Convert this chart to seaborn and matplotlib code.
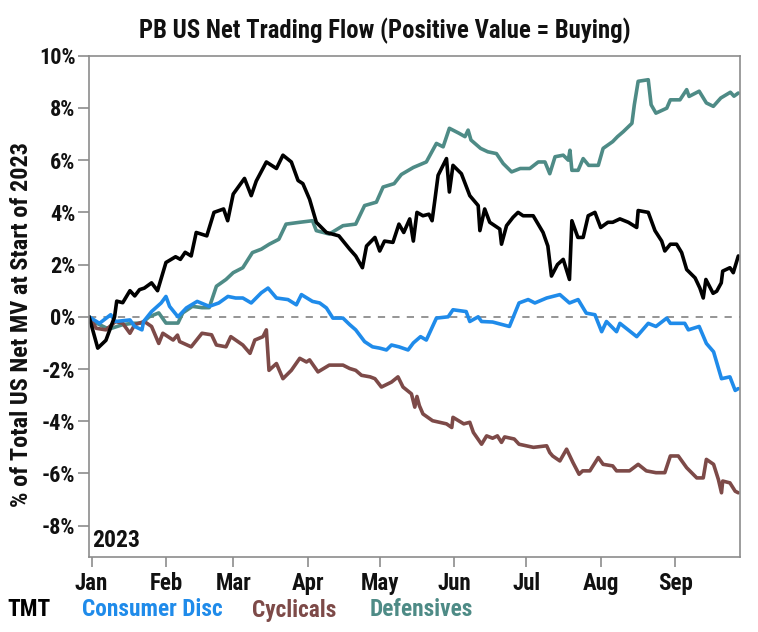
import numpy as np
import pandas as pd
import matplotlib
matplotlib.use("Agg")
import matplotlib.pyplot as plt
import matplotlib.dates as mdates
from matplotlib.ticker import FuncFormatter
from matplotlib import font_manager as fm
import seaborn as sns

# ---------------- data (day offsets from 2023-01-01, % of total US net MV) ----------------
tmt_day = [-1, 2.6, 6, 9.6, 10.5, 13, 16, 18, 20, 22, 25, 27.5, 31, 35, 37, 39, 41.5, 43.6, 48, 51,
           55, 56.7, 59, 63.7, 66.5, 68.6, 72.8, 77, 79.7, 83.2, 86, 88, 90.8, 93.6, 97.8, 103, 107.5,
           110, 112.8, 114.5, 118, 120, 122, 125.5, 128, 130, 132.5, 134, 135.5, 138, 140.5, 141.8,
           143, 144.3, 147.8, 149, 150.5, 154, 157.5, 161, 161.7, 163.7, 165.8, 170, 170.7, 172.8,
           175.5, 177.6, 179.7, 183.9, 188, 190, 191.5, 194, 196.4, 199, 200, 202.5, 204.7, 206.8,
           209.6, 212, 215, 217, 220, 223.5, 227, 227.6, 231.8, 234.6, 237.4, 238.7, 241, 243.6,
           245.7, 247.8, 251.3, 253.3, 254.7, 255.8, 258.8, 260.3, 262.2, 262.8, 265.8, 267.2, 269.3]
tmt_val = [0.0, -1.2, -0.9, 0.0, 0.6, 0.54, 1.0, 0.8, 1.04, 1.1, 1.3, 1.0, 2.08, 2.3, 2.2, 2.47, 2.33,
           3.23, 3.1, 4.0, 4.13, 3.68, 4.7, 5.3, 4.64, 5.2, 5.93, 5.68, 6.19, 5.93, 5.22, 5.1, 4.5,
           3.62, 3.23, 3.1, 2.59, 2.33, 1.88, 2.71, 3.04, 2.52, 2.9, 2.85, 3.55, 3.23, 3.75, 2.9, 4.0,
           3.87, 3.93, 3.68, 4.5, 5.42, 6.06, 4.78, 5.8, 5.48, 4.64, 4.26, 3.3, 4.13, 3.62, 3.36,
           2.78, 3.49, 3.81, 4.0, 3.87, 3.87, 3.23, 2.71, 1.56, 2.0, 2.2, 1.43, 3.68, 3.04, 3.04,
           3.87, 4.0, 3.42, 3.62, 3.62, 3.75, 3.62, 3.42, 4.07, 4.0, 3.3, 2.9, 2.52, 2.78, 2.78,
           2.46, 1.81, 1.49, 1.1, 0.72, 1.43, 0.9, 0.98, 1.3, 1.75, 1.88, 1.69, 2.33]

cons_day = [-1, 3.3, 8, 10, 16, 18, 21, 21.7, 25, 29, 31, 32.5, 36, 39.5, 44, 49, 53, 56.8, 60, 63,
            66.5, 70.7, 73.5, 77, 81.8, 85.3, 87.4, 92, 95, 97.8, 100.5, 104.7, 107.5, 110, 113.7,
            117, 120, 122.8, 124.9, 128, 131.8, 134, 137, 139.4, 143.6, 148.5, 150.5, 156, 157.5,
            161, 162.4, 167, 174, 178, 181.8, 184.6, 189.5, 195, 199, 202.6, 206, 209.6, 212.4,
            214.4, 218.6, 220, 227, 231.8, 235, 239.5, 241, 247, 248.5, 253, 256, 259, 262.3,
            265.8, 268, 269.3]
cons_val = [0.0, -0.25, 0.08, -0.18, -0.12, -0.37, -0.5, -0.18, 0.2, 0.53, 0.78, 0.4, 0.0, 0.34,
            0.59, 0.4, 0.53, 0.78, 0.72, 0.72, 0.53, 0.92, 1.1, 0.72, 0.66, 0.46, 0.85, 0.59, 0.53,
            0.34, -0.05, -0.05, -0.3, -0.5, -0.95, -1.15, -1.2, -1.27, -1.08, -1.15, -1.27, -1.0,
            -0.76, -0.89, -0.05, 0.0, 0.27, 0.2, -0.18, 0.0, -0.18, -0.2, -0.37, 0.53, 0.66, 0.53,
            0.72, 0.85, 0.53, 0.66, 0.14, 0.08, -0.57, -0.18, -0.57, -0.25, -0.76, -0.25, -0.37,
            -0.05, -0.25, -0.25, -0.5, -0.37, -1.02, -1.34, -2.37, -2.3, -2.82, -2.75]

cyc_day = [-1, 2, 6, 10, 13, 16, 18, 22, 25, 28, 29.7, 34, 35.8, 36.7, 41.5, 46, 50, 52, 56, 58, 63,
           66, 68, 71.4, 72.8, 73.9, 77, 79.7, 83.2, 86.7, 89.5, 90.8, 94.3, 99, 104.7, 107.5, 110,
           112.4, 116, 118, 120.7, 124.9, 127.6, 129.7, 133.2, 134.6, 135.5, 136.5, 138, 142, 147.8,
           150, 150.5, 155, 157.5, 159, 162.4, 164.5, 167, 169, 170.7, 172, 176, 178, 184, 189.5,
           190.8, 192, 195, 197.8, 200.5, 203, 204.5, 207.5, 211, 213, 217, 218.6, 224, 227.6, 231,
           235, 238.7, 241, 244.3, 247.8, 252, 254.7, 256, 259, 261, 262.3, 262.8, 265.8, 268, 269.3]
cyc_val = [0.0, -0.44, -0.5, -0.18, -0.25, -0.63, -0.3, -0.18, -0.37, -1.02, -0.63, -0.89, -0.7,
           -0.95, -1.15, -0.63, -0.69, -1.08, -1.15, -0.76, -1.08, -1.4, -0.89, -0.76, -0.5, -2.05,
           -1.79, -2.37, -2.05, -1.59, -1.73, -1.65, -2.11, -1.85, -1.85, -1.98, -2.05, -2.24, -2.3,
           -2.37, -2.69, -2.5, -2.3, -2.69, -2.95, -3.46, -3.05, -3.4, -3.72, -3.98, -4.1, -4.24,
           -3.85, -4.1, -4.04, -4.43, -4.88, -4.56, -4.65, -4.56, -4.81, -4.6, -4.68, -4.88, -5.0,
           -4.94, -5.2, -5.33, -5.52, -5.07, -5.59, -6.03, -5.9, -5.9, -5.39, -5.65, -5.71, -5.9,
           -5.9, -5.65, -5.9, -5.97, -5.97, -5.33, -5.33, -5.78, -6.17, -6.17, -5.46, -5.65, -6.23,
           -6.74, -6.29, -6.36, -6.68, -6.74]

def_day = [-1, 2, 6, 8, 13, 17, 21, 24, 28, 31, 36, 38, 42, 46, 49, 52, 56, 59, 63, 67, 70.7, 74,
           78, 81, 86.7, 92, 93.6, 99, 104.7, 110, 113.7, 118.6, 121.4, 126, 129, 134, 139.4, 143.6,
           146.4, 149, 153, 155.5, 156.8, 158, 162, 165, 168.6, 171.4, 174.9, 178.5, 182.5, 186,
           188.8, 190.8, 193, 196.4, 198.5, 199.2, 200, 202.6, 204.7, 207, 211, 213, 217, 219, 221.4,
           225, 226, 227.6, 231.8, 233, 235, 239.5, 241, 245, 247.8, 248.8, 253, 256, 258.9, 262,
           266, 267.5, 269.3]
def_val = [0.0, -0.24, -0.42, -0.45, -0.3, -0.25, -0.24, 0.0, 0.15, -0.24, -0.24, 0.15, 0.4, 0.35,
           0.35, 1.17, 1.43, 1.69, 1.88, 2.46, 2.59, 2.78, 2.97, 3.55, 3.62, 3.68, 3.3, 3.17, 3.49,
           3.55, 4.26, 4.39, 4.97, 5.1, 5.45, 5.72, 5.93, 6.64, 6.51, 7.22, 7.03, 6.9, 7.15, 6.77,
           6.45, 6.32, 6.25, 5.87, 5.55, 5.68, 5.68, 5.93, 5.93, 5.48, 6.13, 6.19, 6.0, 6.38, 5.61,
           5.61, 6.06, 5.8, 5.8, 6.45, 6.71, 6.9, 7.09, 7.41, 8.12, 9.02, 9.08, 8.12, 7.8, 7.99,
           8.31, 8.31, 8.7, 8.44, 8.64, 8.19, 8.06, 8.38, 8.6, 8.45, 8.57]

series_names = ["TMT", "Consumer Disc", "Cyclicals", "Defensives"]
series_colors = ["#000000", "#1f8bea", "#7d4a48", "#4e8b86"]
y_ticks = [-8, -6, -4, -2, 0, 2, 4, 6, 8, 10]
title = "PB US Net Trading Flow (Positive Value = Buying)"
ylabel = "% of Total US Net MV at Start of 2023"
year_label = "2023"

base = pd.Timestamp("2023-01-01")
frames = []
for name, d, v in zip(series_names, [tmt_day, cons_day, cyc_day, def_day],
                      [tmt_val, cons_val, cyc_val, def_val]):
    frames.append(pd.DataFrame({"date": base + pd.to_timedelta(np.array(d), unit="D"),
                                "value": v, "sector": name}))
df = pd.concat(frames, ignore_index=True)

# ---------------- style ----------------
sns.set_style("white")
names = {f.name for f in fm.fontManager.ttflist}
FONT = "Roboto"
for cand in ["Roboto Condensed", "Liberation Sans Narrow", "Roboto"]:
    if cand in names:
        FONT = cand
        break
plt.rcParams["font.family"] = [FONT, "DejaVu Sans"]
TXT = "#111111"

fig = plt.figure(figsize=(7.58, 6.32), dpi=100)
ax = fig.add_axes([89.3 / 758, 1 - 556.5 / 632, (740 - 89.3) / 758, (556.5 - 55.7) / 632])

palette = dict(zip(series_names, series_colors))
sns.lineplot(data=df, x="date", y="value", hue="sector", palette=palette,
             hue_order=series_names[::-1], estimator=None, sort=True,
             linewidth=2.6, legend=False, ax=ax)

ax.axhline(0, color="#8c8c8c", lw=1.3, ls=(0, (4, 4)), zorder=0)

ax.set_ylim(-9.18, 10)
ax.set_yticks(y_ticks)
ax.yaxis.set_major_formatter(FuncFormatter(lambda v, p: f"{int(round(v))}%"))
ax.set_xlim(base - pd.Timedelta(hours=22), base + pd.Timedelta(days=270))
ax.xaxis.set_major_locator(mdates.MonthLocator(bymonth=range(1, 10)))
ax.xaxis.set_major_formatter(mdates.DateFormatter("%b"))

for sp in ax.spines.values():
    sp.set_color("#8c8c8c")
    sp.set_linewidth(1.2)
ax.tick_params(axis="y", direction="out", length=8, width=1.2, color="#8c8c8c", pad=2,
               labelsize=16, left=True)
ax.tick_params(axis="x", direction="out", length=7, width=1.2, color="#8c8c8c", pad=4,
               labelsize=16.5, bottom=True)
for lab in ax.get_xticklabels() + ax.get_yticklabels():
    lab.set_fontweight("bold")
    lab.set_color(TXT)

ax.set_xlabel("")
ax.set_ylabel("")
fig.text(22 / 758, 1 - 325 / 632, ylabel, rotation=90, ha="center", va="center",
         fontsize=17.5, fontweight="bold", color=TXT)

ax.text(0.004, 0.008, year_label, transform=ax.transAxes, ha="left", va="bottom",
        fontsize=17, fontweight="bold", color=TXT)

fig.text(385 / 758, 1 - 31 / 632, title, ha="center", va="center", fontsize=17.8,
         fontweight="bold", color=TXT)

leg_x = [7, 82, 252, 370]
for name, col, xp in zip(series_names, series_colors, leg_x):
    fig.text(xp / 758, 1 - 610 / 632, name, ha="left", va="center", fontsize=16.8,
             fontweight="bold", color=col)

fig.savefig("out.png", dpi=100)
